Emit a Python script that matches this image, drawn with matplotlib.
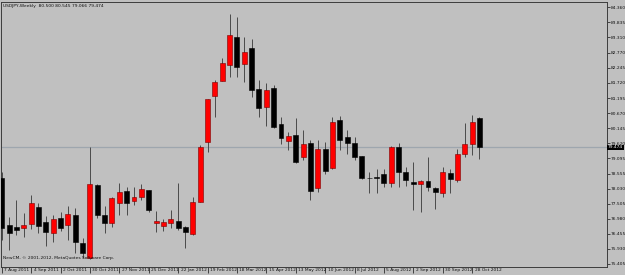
import matplotlib
matplotlib.use("Agg")
import matplotlib.pyplot as plt
from matplotlib import font_manager
import numpy as np

# USDJPY weekly candles, one per week starting 7 Aug 2011
opens = [78.39, 76.77, 76.68, 76.67, 76.79, 77.40, 76.88, 76.50, 77.00, 76.77,
         77.11, 76.13, 75.60, 78.16, 77.11, 76.82, 77.52, 77.96, 77.61, 77.73,
         77.99, 76.82, 76.74, 76.82, 76.91, 76.71, 76.45, 77.58, 79.67, 81.27,
         81.80, 82.35, 83.33, 82.38, 82.93, 81.50, 80.89, 81.53, 80.28, 79.71,
         79.89, 79.15, 79.62, 78.05, 79.41, 78.74, 80.43, 79.85, 79.62, 79.17,
         78.40, 78.45, 78.54, 78.22, 79.50, 78.62, 78.28, 78.20, 78.30, 78.07,
         77.89, 78.59, 78.34, 79.23, 79.58, 80.50]
highs = [78.61, 77.03, 77.64, 77.17, 77.81, 77.54, 77.08, 77.11, 77.23, 77.43,
         77.35, 76.30, 79.50, 78.18, 77.43, 77.73, 78.24, 78.10, 78.10, 78.19,
         78.00, 77.26, 76.97, 77.29, 78.22, 76.72, 77.75, 79.56, 81.17, 81.82,
         82.60, 84.13, 84.03, 83.31, 83.24, 81.82, 81.73, 81.65, 80.54, 80.02,
         80.49, 80.08, 79.73, 79.73, 79.67, 80.54, 80.57, 80.08, 79.85, 79.18,
         78.62, 78.71, 78.71, 79.51, 79.62, 78.80, 78.97, 78.34, 79.15, 78.08,
         78.80, 78.71, 79.41, 80.33, 80.60, 80.545]
lows = [76.24, 75.89, 76.42, 76.36, 76.61, 76.48, 76.03, 76.18, 76.57, 76.24,
        75.78, 75.60, 75.57, 77.00, 76.50, 76.71, 77.11, 77.11, 77.46, 77.64,
        77.23, 76.53, 76.57, 76.65, 76.59, 75.95, 76.42, 77.56, 79.32, 80.54,
        81.79, 81.92, 81.92, 81.77, 81.24, 80.52, 80.22, 80.16, 79.59, 79.38,
        78.92, 79.03, 77.64, 77.93, 78.54, 78.72, 79.38, 79.24, 79.03, 78.37,
        77.89, 77.87, 78.08, 78.10, 78.08, 78.13, 77.29, 77.22, 77.96, 77.33,
        77.75, 77.89, 78.28, 79.15, 79.21, 79.066]
closes = [76.65, 76.48, 76.59, 76.75, 77.52, 76.73, 76.53, 76.97, 76.67, 77.14,
          76.18, 75.78, 78.19, 77.11, 76.85, 77.72, 77.91, 77.54, 77.73, 78.01,
          77.29, 76.91, 76.86, 76.96, 76.65, 76.53, 77.56, 79.50, 81.16, 81.77,
          82.43, 83.39, 82.29, 82.81, 81.47, 80.86, 81.47, 80.19, 79.79, 79.87,
          78.95, 79.58, 77.95, 79.41, 78.66, 80.37, 79.73, 79.62, 79.15, 78.42,
          78.39, 78.39, 78.22, 79.50, 78.62, 78.34, 78.20, 78.31, 78.10, 77.93,
          78.60, 78.38, 79.24, 79.59, 80.37, 79.474]

date_labels = ["7 Aug 2011", "4 Sep 2011", "2 Oct 2011", "30 Oct 2011", "27 Nov 2011",
               "25 Dec 2011", "22 Jan 2012", "19 Feb 2012", "18 Mar 2012", "15 Apr 2012",
               "13 May 2012", "10 Jun 2012", "8 Jul 2012", "5 Aug 2012", "2 Sep 2012",
               "30 Sep 2012", "28 Oct 2012"]
price_ticks = [84.360, 83.835, 83.310, 82.770, 82.245, 81.720, 81.195, 80.670, 80.145,
               79.620, 79.095, 78.555, 78.030, 77.505, 76.980, 76.455, 75.930, 75.405]
bid = 79.474

names = {f.name for f in font_manager.fontManager.ttflist}
narrow = 'Liberation Sans Narrow' in names
plt.rcParams['font.family'] = ['Liberation Sans Narrow', 'DejaVu Sans']
fs = 3.9 if narrow else 3.2
bg = '#c0c0c0'
tc = '#101010'

W, H = 625, 275
fig = plt.figure(figsize=(W / 100, H / 100), dpi=100, facecolor=bg)
L, R, T, B = 1, 607, 2, 267
ax = fig.add_axes([L / W, (H - B) / H, (R - L) / W, (B - T) / H], facecolor=bg)

o = np.array(opens)
c = np.array(closes)
x = np.arange(len(o))
up = c >= o

ax.axhline(bid, color='#9ea6ae', lw=0.9, zorder=1)
ax.vlines(x, lows, highs, color='#4a4a4a', lw=0.7, zorder=2)
body_lo = np.minimum(o, c)
body_h = np.maximum(np.abs(c - o), 0.02)
ax.bar(x[up], body_h[up], bottom=body_lo[up], width=0.68, color='#ff0000',
       edgecolor='#7a0000', linewidth=0.4, zorder=3)
ax.bar(x[~up], body_h[~up], bottom=body_lo[~up], width=0.68, color='#000000',
       edgecolor='#000000', linewidth=0.4, zorder=3)

step = 7.35
x0 = -(1.7 - L) / step
ax.set_xlim(x0, x0 + (R - L) / step)
ax.set_ylim(75.30, 84.545)

for s in ax.spines.values():
    s.set_color('#3c3c3c')
    s.set_linewidth(0.7)

# price scale on the right
ax.yaxis.tick_right()
ax.set_yticks(price_ticks)
ax.set_yticklabels(["%.3f" % v for v in price_ticks])
ax.tick_params(axis='y', direction='out', length=2, width=0.5, pad=0.7,
               labelsize=fs, colors=tc)

# date scale
tick_idx = list(range(0, 4 * len(date_labels), 4))
ax.set_xticks(tick_idx)
ax.set_xticklabels([])
ax.tick_params(axis='x', direction='out', length=4, width=0.5, colors=tc)
for i, lab in zip(tick_idx, date_labels):
    ax.annotate(lab, xy=(i, 0), xycoords=('data', 'axes fraction'),
                xytext=(1.8, -0.9), textcoords='offset points', ha='left', va='top',
                fontsize=fs, color=tc, annotation_clip=False)

ax.annotate("%.3f" % bid, xy=(1, bid), xycoords=('axes fraction', 'data'),
            xytext=(0.8, 0), textcoords='offset points', ha='left', va='center',
            fontsize=fs, color='white', annotation_clip=False,
            bbox=dict(boxstyle='square,pad=0.15', fc='black', ec='none'))

ax.annotate("USDJPY,Weekly  80.500 80.545 79.066 79.474", xy=(0, 1),
            xycoords='axes fraction', xytext=(1.5, -1.5), textcoords='offset points',
            ha='left', va='top', fontsize=fs, color=tc)
ax.annotate("NewCM, \u00a9 2001-2012, MetaQuotes Software Corp.", xy=(0, 0),
            xycoords='axes fraction', xytext=(1.5, 6.5), textcoords='offset points',
            ha='left', va='center', fontsize=fs, color=tc)

fig.savefig("out.png", dpi=100, facecolor=bg)
